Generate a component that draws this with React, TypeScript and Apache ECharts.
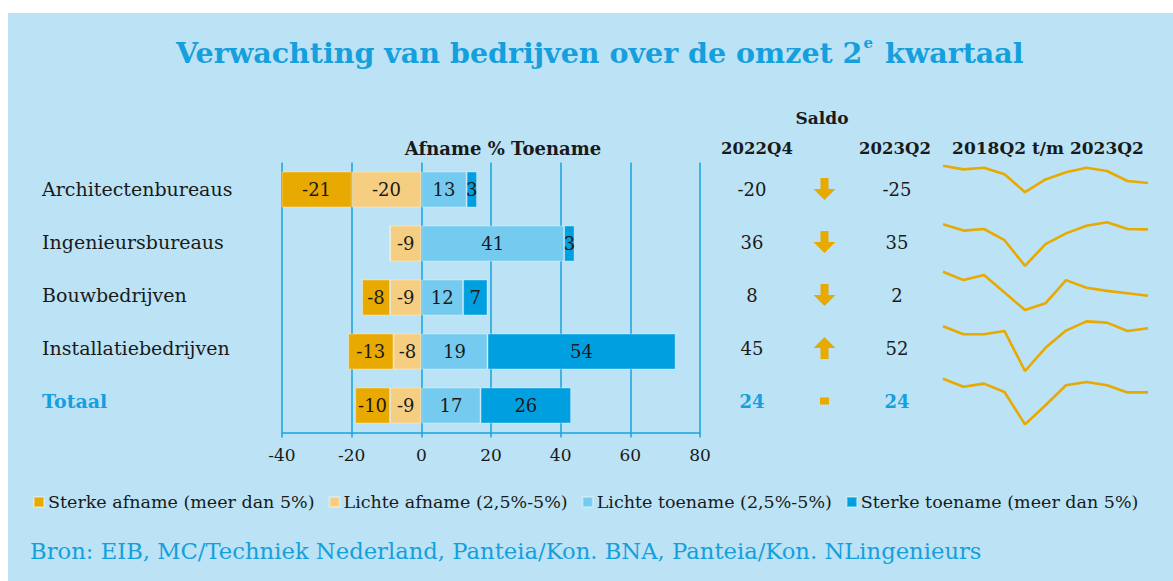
import React, { useEffect, useRef } from 'react';
import * as echarts from 'echarts';

// ---------- data ----------
const categories = ['Architectenbureaus', 'Ingenieursbureaus', 'Bouwbedrijven', 'Installatiebedrijven', 'Totaal'];
const sterkeAfname = [-21, 0, -8, -13, -10];
const lichteAfname = [-20, -9, -9, -8, -9];
const lichteToename = [13, 41, 12, 19, 17];
const sterkeToename = [3, 3, 7, 54, 26];
const saldo2022Q4 = [-20, 36, 8, 45, 24];
const saldo2023Q2 = [-25, 35, 2, 52, 24];
const xTicks = [-40, -20, 0, 20, 40, 60, 80];
const sparkPeriods = ['2018Q2', '2018Q4', '2019Q2', '2019Q4', '2020Q2', '2020Q4', '2021Q2', '2021Q4', '2022Q2', '2022Q4', '2023Q2'];
const sparkArchitecten = [18, 9, 13, -3, -48, -16, 2, 13, 5, -20, -25];
const sparkIngenieurs = [48, 32, 36, 8, -56, -2, 25, 44, 53, 36, 35];
const sparkBouw = [62, 41, 54, 10, -34, -17, 41, 22, 14, 8, 2];
const sparkInstallatie = [57, 37, 37, 45, -55, 3, 46, 69, 66, 45, 52];
const sparkTotaal = [58, 38, 46, 25, -56, -8, 42, 50, 42, 24, 24];
const sparklines = [sparkArchitecten, sparkIngenieurs, sparkBouw, sparkInstallatie, sparkTotaal];

const legendNames = ['Sterke afname (meer dan 5%)', 'Lichte afname (2,5%-5%)', 'Lichte toename (2,5%-5%)', 'Sterke toename (meer dan 5%)'];

// ---------- style ----------
const FONT = '"DejaVu Serif", serif';
const BG = '#BBE3F5';
const BLUE = '#159FDD';
const GRID = '#1AA2DF';
const TEXT = '#1a1a1a';
const C_STERK_AF = '#E8A900';
const C_LICHT_AF = '#F5CE82';
const C_LICHT_TOE = '#74CAEF';
const C_STERK_TOE = '#009FE0';
const SPARK = '#E8A900';

const ARROW_DOWN = 'path://M7,0 L15,0 L15,11 L22,11 L11,22 L0,11 L7,11 Z';
const ARROW_UP = 'path://M11,0 L22,11 L15,11 L15,22 L7,22 L7,11 L0,11 Z';

const sparkTops = [128, 198.4, 251.5, 304, 357];

function buildOption() {
  const isTot = (i: number) => categories[i] === 'Totaal';
  const barLabel = {
    show: true,
    position: 'inside',
    color: TEXT,
    fontSize: 18,
    fontFamily: FONT,
    formatter: (p: any) => (p.value === 0 ? '' : String(p.value)),
  };
  const barSeries = (name: string, data: number[], color: string) => ({
    type: 'bar',
    name,
    stack: 'total',
    xAxisIndex: 0,
    yAxisIndex: 0,
    barWidth: 36,
    data,
    itemStyle: { color, borderColor: 'rgba(255,255,255,0.35)', borderWidth: 1 },
    label: barLabel,
  });

  const grids: any[] = [
    { left: 274, top: 149.5, width: 418, height: 270, outerBoundsMode: 'none', containLabel: false },
    { left: 744, top: 149.5, width: 145, height: 265, outerBoundsMode: 'none', containLabel: false },
  ];
  const xAxes: any[] = [
    {
      type: 'value', gridIndex: 0, min: xTicks[0], max: xTicks[xTicks.length - 1], interval: 20,
      axisLine: { show: true, lineStyle: { color: GRID, width: 1.5 } },
      axisTick: { show: true, length: 5, lineStyle: { color: GRID, width: 1.5 } },
      splitLine: { show: true, lineStyle: { color: GRID, width: 1.5 } },
      axisLabel: { color: TEXT, fontSize: 17, fontFamily: FONT, margin: 14 },
    },
    { type: 'value', gridIndex: 1, min: 0, max: 2, show: false },
  ];
  const yAxes: any[] = [
    {
      type: 'category', gridIndex: 0, inverse: true, data: categories,
      axisLine: { show: false }, axisTick: { show: false }, axisLabel: { show: false },
    },
    {
      type: 'category', gridIndex: 1, inverse: true,
      data: categories.map((c, i) => isTot(i)
        ? { value: c, textStyle: { color: BLUE, fontWeight: 'bold', align: 'left' } }
        : c),
      axisLine: { show: false }, axisTick: { show: false }, splitLine: { show: false },
      axisLabel: { align: 'left', margin: 710, color: TEXT, fontSize: 19, fontFamily: FONT },
    },
  ];

  const series: any[] = [
    barSeries(legendNames[1], lichteAfname, C_LICHT_AF),
    barSeries(legendNames[0], sterkeAfname, C_STERK_AF),
    barSeries(legendNames[2], lichteToename, C_LICHT_TOE),
    barSeries(legendNames[3], sterkeToename, C_STERK_TOE),
  ];

  const saldoText = (col: number, vals: number[]) => ({
    type: 'scatter', xAxisIndex: 1, yAxisIndex: 1, symbolSize: 1,
    itemStyle: { color: 'rgba(0,0,0,0)', opacity: 1 }, silent: true,
    data: vals.map((v, i) => ({
      value: [col, i, v],
      label: { color: isTot(i) ? BLUE : TEXT, fontWeight: isTot(i) ? 'bold' : 'normal' },
    })),
    label: {
      show: true, position: 'inside', fontSize: 18, fontFamily: FONT,
      formatter: (p: any) => String(p.value[2]),
    },
  });
  series.push(saldoText(0, saldo2022Q4));
  series.push(saldoText(2, saldo2023Q2));
  series.push({
    type: 'scatter', xAxisIndex: 1, yAxisIndex: 1, silent: true,
    itemStyle: { color: SPARK, opacity: 1 },
    data: saldo2023Q2.map((v, i) => {
      const d = v - saldo2022Q4[i];
      if (d < 0) return { value: [1, i], symbol: ARROW_DOWN, symbolSize: [22, 22] };
      if (d > 0) return { value: [1, i], symbol: ARROW_UP, symbolSize: [22, 22] };
      return { value: [1, i], symbol: 'rect', symbolSize: [9, 7] };
    }),
  });

  sparklines.forEach((vals, k) => {
    const gi = grids.length;
    grids.push({ left: 935, width: 205, top: sparkTops[k], height: 64, outerBoundsMode: 'none', containLabel: false });
    xAxes.push({ type: 'category', gridIndex: gi, data: sparkPeriods, show: false, boundaryGap: false });
    yAxes.push({ type: 'value', gridIndex: gi, min: -80, max: 80, show: false });
    series.push({
      type: 'line', xAxisIndex: gi, yAxisIndex: gi, data: vals, symbol: 'none', silent: true,
      lineStyle: { color: SPARK, width: 2.6 }, clip: false,
    });
  });

  const headerStyle = (text: string, size = 17) => ({
    text, fill: TEXT, fontSize: size, fontWeight: 'bold', fontFamily: FONT,
    align: 'center', verticalAlign: 'middle',
  });

  return {
    animation: false,
    backgroundColor: BG,
    textStyle: { fontFamily: FONT },
    title: {
      left: 163, top: 17,
      text: '{a|Verwachting van bedrijven over de omzet 2}{s|e}{a| kwartaal}',
      textStyle: {
        rich: {
          a: { fontSize: 28.5, fontWeight: 'bold', color: BLUE, fontFamily: FONT, lineHeight: 36 },
          s: { fontSize: 15, fontWeight: 'bold', color: BLUE, fontFamily: FONT, verticalAlign: 'top', lineHeight: 36, padding: [0, 2, 14, 1] },
        },
      },
    },
    legend: {
      left: 20, top: 475, itemWidth: 10, itemHeight: 10, itemGap: 14, icon: 'rect',
      data: legendNames,
      textStyle: { color: TEXT, fontSize: 17.5, fontFamily: FONT, padding: [0, 0, 0, -1] },
    },
    grid: grids,
    xAxis: xAxes,
    yAxis: yAxes,
    series,
    graphic: {
      elements: [
        { type: 'text', x: 814, y: 105, style: headerStyle('Saldo') },
        { type: 'text', x: 495, y: 135, style: headerStyle('Afname % Toename', 18) },
        { type: 'text', x: 749, y: 135, style: headerStyle('2022Q4', 16.5) },
        { type: 'text', x: 887, y: 135, style: headerStyle('2023Q2', 16.5) },
        { type: 'text', x: 1040, y: 135, style: headerStyle('2018Q2 t/m 2023Q2') },
        {
          type: 'text', x: 22, y: 538,
          style: {
            text: 'Bron: EIB, MC/Techniek Nederland, Panteia/Kon. BNA, Panteia/Kon. NLingenieurs',
            fill: BLUE, fontSize: 22.7, fontFamily: FONT, align: 'left', verticalAlign: 'middle',
          },
        },
      ],
    },
  };
}

export default function App() {
  const ref = useRef<HTMLDivElement>(null);
  useEffect(() => {
    document.body.style.margin = '0';
    const chart = echarts.init(ref.current as HTMLDivElement, null, { renderer: 'svg' });
    chart.setOption(buildOption() as any);
    return () => chart.dispose();
  }, []);
  return (
    <div style={{ width: 1173, height: 581, background: '#fff', position: 'relative' }}>
      <div ref={ref} style={{ position: 'absolute', left: 8, top: 13, width: 1165, height: 568 }} />
    </div>
  );
}
